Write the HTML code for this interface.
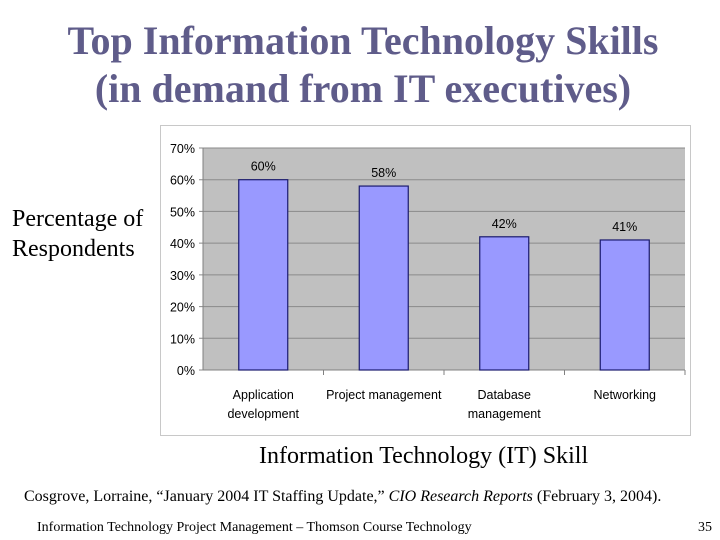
<!DOCTYPE html>
<html><head><meta charset="utf-8"><style>
body{margin:0;width:720px;height:540px;background:#fff;position:relative;overflow:hidden;font-family:"Liberation Serif",serif}
.t{position:absolute;white-space:nowrap}
</style></head><body>
<div class="t" style="left:0;width:726px;top:17px;text-align:center;color:#5f5c8a;font-size:40px;font-weight:bold;line-height:48px">Top Information Technology Skills<br>(in demand from IT executives)</div>
<div class="t" style="left:12px;top:204px;font-size:24px;line-height:30px">Percentage of<br>Respondents</div>
<svg style="position:absolute;left:0;top:0" width="720" height="540" id="svg"></svg>
<div class="t" style="left:259px;top:443px;font-size:24px">Information Technology (IT) Skill</div>
<div class="t" style="left:24px;top:488px;font-size:16px">Cosgrove, Lorraine, “January 2004 IT Staffing Update,” <i>CIO Research Reports</i> (February 3, 2004).</div>
<div class="t" style="left:37px;top:520px;font-size:14px">Information Technology Project Management – Thomson Course Technology</div>
<div class="t" style="left:698px;top:520px;font-size:14px">35</div>
<script>
const categories=[["Application","development"],["Project management"],["Database","management"],["Networking"]];
const values=[60,58,42,41];
const ticks=[0,10,20,30,40,50,60,70];
const svg=document.getElementById('svg');const NS='http://www.w3.org/2000/svg';
const L=203,R=685,T=148,B=370,max=70;
const y=v=>B-(v/max)*(B-T);const cw=(R-L)/categories.length;
function mk(t,a,p){const e=document.createElementNS(NS,t);for(const k in a)e.setAttribute(k,a[k]);(p||svg).appendChild(e);return e;}
const box=mk('rect',{x:160.5,y:125.5,width:530,height:310,fill:'#fff',stroke:'#c8c8c8'});


const pa=mk('rect',{x:L,y:T,width:R-L,height:B-T,fill:'#c0c0c0'});


ticks.forEach(t=>{
 const g=mk('line',{x1:L-4,x2:R,y1:y(t),y2:y(t),stroke:'#8a8a8a','stroke-width':1});
 
 
 const tx=mk('text',{x:L-8,y:y(t)+5,'text-anchor':'end','font-family':'Liberation Sans,sans-serif','font-size':12.5,fill:'#000'});
 tx.textContent=t+'%';
 
 
});
mk('line',{x1:L,x2:L,y1:T,y2:B,stroke:'#808080'});
mk('line',{x1:L,x2:R,y1:B,y2:B,stroke:'#808080'});
categories.forEach((c,i)=>{
 const cx=L+cw*(i+0.5);const v=values[i];
 mk('line',{x1:L+cw*(i+1),x2:L+cw*(i+1),y1:B,y2:B+5,stroke:'#808080'});
 const b=mk('rect',{x:cx-24.5,y:y(v),width:49,height:B-y(v),fill:'#9999ff',stroke:'#1a1a6e','stroke-width':1.2});
 
 
 const lb=mk('text',{x:cx,y:y(v)-9,'text-anchor':'middle','font-family':'Liberation Sans,sans-serif','font-size':12.5});
 lb.textContent=v+'%';
 
 
 c.forEach((line,j)=>{
  const t=mk('text',{x:cx,y:B+29+j*19,'text-anchor':'middle','font-family':'Liberation Sans,sans-serif','font-size':12.5});
  t.textContent=line;
  
  
 });
});
</script>
</body></html>
